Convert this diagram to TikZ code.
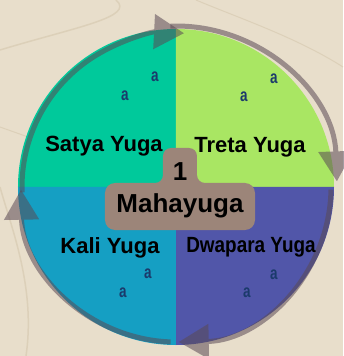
\documentclass[tikz,border=0pt]{standalone}
\usepackage{fontspec}
\setmainfont{Liberation Sans}
\usepackage{tikz}
\usetikzlibrary{arrows.meta}

\definecolor{fond}{HTML}{E8DECB}
\definecolor{trait}{HTML}{DCD0B9}
\definecolor{satya}{HTML}{00C99B}
\definecolor{treta}{HTML}{A9E663}
\definecolor{dwapara}{HTML}{5156A9}
\definecolor{kali}{HTML}{159FC3}
\definecolor{centre}{HTML}{9C8579}
\definecolor{fleche}{HTML}{5A4A55}
\definecolor{petit}{HTML}{1B3A6B}

\tikzset{
  nomyuga/.style={font=\bfseries\fontsize{22}{24}\selectfont, text=black, inner sep=0pt},
  grandnom/.style={font=\bfseries\fontsize{26}{28}\selectfont, text=black, inner sep=0pt},
  petita/.style={font=\bfseries\fontsize{18}{20}\selectfont, text=petit, inner sep=0pt},
  cycle fleche/.style={draw=fleche, line width=5pt,
    -{Triangle[length=30pt, width=34pt]}}
}

\begin{document}
\begin{tikzpicture}[x=1pt, y=1pt]
        \useasboundingbox (-176,-169) rectangle (167,187);

        % Fond
        \fill[fond] (-176,-169) rectangle (167,187);
        \draw[trait, line width=1.5pt] (-176,137) .. controls (-100,160) and (-40,170) .. (-60,187);
        \draw[trait, line width=1pt] (-176,60) .. controls (-120,40) and (-60,20) .. (-20,-10);
        \draw[trait, line width=1.5pt] (-150,-169) .. controls (-140,-100) and (-165,-40) .. (-176,0);
        \draw[trait, line width=1pt] (167,120) .. controls (120,150) and (60,170) .. (20,187);

        % Les quatre yugas
        \fill[satya] (0,0) -- (180:158) arc[start angle=180, end angle=90, radius=158] -- cycle;
        \fill[treta] (0,0) -- (90:158) arc[start angle=90, end angle=0, radius=158] -- cycle;
        \fill[dwapara] (0,0) -- (0:158) arc[start angle=0, end angle=-90, radius=158] -- cycle;
        \fill[kali] (0,0) -- (-90:158) arc[start angle=-90, end angle=-180, radius=158] -- cycle;

        % Fleches du cycle
        \begin{scope}[transparency group, opacity=0.55]
          \draw[cycle fleche] (182:154) arc[start angle=182, end angle=87, radius=154];
        \end{scope}
        \begin{scope}[transparency group, opacity=0.55]
          \draw[cycle fleche] (92:161) arc[start angle=92, end angle=2, radius=161];
        \end{scope}
        \begin{scope}[transparency group, opacity=0.55]
          \draw[cycle fleche] (-1:155) arc[start angle=-1, end angle=-89, radius=155];
        \end{scope}
        \begin{scope}[transparency group, opacity=0.55]
          \draw[cycle fleche] (-92:155) arc[start angle=-92, end angle=-179, radius=155];
        \end{scope}

        % Etiquette centrale
        \fill[centre] (-71,-33) -- (-71,-6) arc[start angle=180, end angle=90, radius=10]
          -- (-21,4) arc[start angle=270, end angle=360, radius=8]
          -- (-13,31) arc[start angle=180, end angle=90, radius=8]
          -- (13,39) arc[start angle=90, end angle=0, radius=8]
          -- (21,12) arc[start angle=180, end angle=270, radius=8]
          -- (69,4) arc[start angle=90, end angle=0, radius=10]
          -- (79,-33) arc[start angle=0, end angle=-90, radius=10]
          -- (-61,-43) arc[start angle=270, end angle=180, radius=10] -- cycle;
        \node[grandnom] (un) at (4,15) {1};
        \node[grandnom] (mahayuga) at (4,-19) {Mahayuga};

        % Noms
        \node[nomyuga] (satyanom) at (-72,41) {Satya Yuga};
        \node[nomyuga] (tretanom) at (74,40) {Treta Yuga};
        \node[nomyuga] (kalinom) at (-66,-61) {Kali Yuga};
        \node[nomyuga] (dwaparanom) at (75,-60) {\scalebox{0.86}[1]{Dwapara Yuga}};

        % Petits a
        \node[petita] (sa1) at (-21,110) {\scalebox{0.75}[1]{a}};
        \node[petita] (sa2) at (-51,91) {\scalebox{0.75}[1]{a}};
        \node[petita] (ta1) at (98,108) {\scalebox{0.75}[1]{a}};
        \node[petita] (ta2) at (68,90) {\scalebox{0.75}[1]{a}};
        \node[petita] (ka1) at (-28,-87) {\scalebox{0.75}[1]{a}};
        \node[petita] (ka2) at (-53,-106) {\scalebox{0.75}[1]{a}};
        \node[petita] (da1) at (98,-88) {\scalebox{0.75}[1]{a}};
        \node[petita] (da2) at (71,-106) {\scalebox{0.75}[1]{a}};
    \end{tikzpicture}
\end{document}
